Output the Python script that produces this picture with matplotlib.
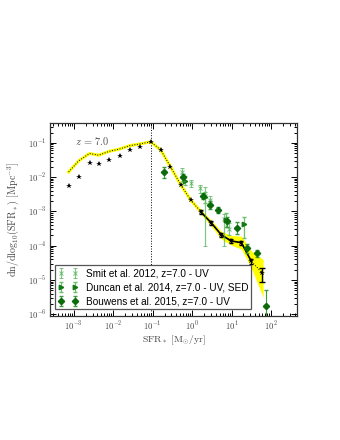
import numpy as np
import matplotlib
matplotlib.use("Agg")
import matplotlib.pyplot as plt
from matplotlib.ticker import LogLocator, FuncFormatter, NullFormatter

plt.rcParams['mathtext.fontset'] = 'cm'

# model curve (log10 SFR, log10 dn/dlogSFR)
model_x = [-3.13, -2.87, -2.60, -2.37, -2.11, -1.84, -1.58, -1.32, -1.05, -0.80,
           -0.55, -0.29, -0.04, 0.23, 0.49, 0.74, 0.99, 1.25, 1.50, 1.78]
model_y = [-1.85, -1.52, -1.31, -1.36, -1.25, -1.18, -1.08, -1.03, -0.97, -1.20,
           -1.69, -2.22, -2.66, -3.02, -3.34, -3.68, -3.86, -3.91, -4.45, -4.80]
# star markers
star_y = [-2.25, -2.00, -1.59, -1.63, -1.49, -1.38, -1.22, -1.13, -0.97, -1.20,
          -1.69, -2.22, -2.66, -3.02, -3.34, -3.68, -3.86, -3.91, -4.45, -4.80]
# yellow band
band_x = [-0.29, -0.04, 0.23, 0.49, 0.74, 0.99, 1.25, 1.50, 1.80]
band_lo = [-2.26, -2.71, -3.08, -3.44, -3.80, -3.98, -4.10, -4.65, -5.50]
band_hi = [-2.18, -2.61, -2.96, -3.26, -3.58, -3.70, -3.72, -4.15, -4.40]
# black data segment with errorbars
seg_x = [0.23, 0.49, 0.74, 0.99, 1.25, 1.50]
seg_y = [-3.02, -3.34, -3.68, -3.86, -3.91, -4.45]
seg_err = [0.05, 0.05, 0.06, 0.06, 0.06, 0.07]
last_x = [1.78]
last_y = [-4.82]
last_lo = [-5.05]
last_hi = [-4.64]

# Smit et al. 2012
sm_x = [-0.25, -0.04, 0.19, 0.32, 0.45, 0.82, 0.93]
sm_y = [-1.84, -2.18, -2.33, -2.55, -2.68, -3.22, -3.50]
sm_lo = [-1.98, -2.30, -2.45, -4.00, -2.85, -4.00, -3.70]
sm_hi = [-1.72, -2.08, -2.22, -2.30, -2.55, -3.08, -3.35]
# Duncan et al. 2014
du_x = [-0.18, 0.32, 0.86, 1.31]
du_y = [-2.10, -2.58, -3.24, -3.38]
du_lo = [-2.22, -2.75, -3.45, -3.78]
du_hi = [-1.98, -2.42, -3.05, -3.15]
# Bouwens et al. 2015
bo_x = [-0.72, -0.22, 0.27, 0.46, 0.65, 0.89, 1.15, 1.40, 1.64, 1.88]
bo_y = [-1.84, -2.00, -2.54, -2.80, -2.95, -3.28, -3.47, -4.07, -4.22, -5.76]
bo_lo = [-2.03, -2.10, -2.65, -2.92, -3.05, -3.45, -3.65, -4.20, -4.32, -6.20]
bo_hi = [-1.69, -1.90, -2.45, -2.70, -2.86, -3.15, -3.32, -3.95, -4.12, -5.30]

vline_x = -1.05


def p(a):
    return 10 ** np.array(a)


def yerr(y, lo, hi):
    y = p(y)
    return [y - p(lo), p(hi) - y]


fig = plt.figure(figsize=(3.4, 4.4), dpi=100)
ax = fig.add_axes([0.147, 0.282, 0.727, 0.4385])

ax.fill_between(p(band_x), p(band_lo), p(band_hi), color='yellow', lw=0, zorder=1)
ax.plot(p(model_x), p(model_y), color='yellow', lw=2.2, zorder=2)
ax.plot(p(model_x), p(model_y), color='black', lw=0.7, ls=':', zorder=3)
ax.plot(p(model_x), p(star_y), '*', color='black', ms=4.3, mew=0, zorder=4)
ax.errorbar(p(seg_x), p(seg_y), yerr=[p(seg_y) - p(np.array(seg_y) - seg_err),
                                      p(np.array(seg_y) + seg_err) - p(seg_y)],
            color='black', lw=1.2, elinewidth=0.8, capsize=1.5, zorder=5)
ax.errorbar(p(last_x), p(last_y), yerr=yerr(last_y, last_lo, last_hi), fmt='none',
            ecolor='black', elinewidth=1.0, capsize=2, zorder=5)

ax.axvline(10 ** vline_x, color='black', ls=':', lw=0.7, zorder=0)

ax.errorbar(p(sm_x), p(sm_y), yerr=yerr(sm_y, sm_lo, sm_hi), fmt='x', color='#4caf50',
            ms=2.8, mew=0.7, elinewidth=0.9, capsize=1.5, alpha=0.7, zorder=6,
            label='Smit et al. 2012, z=7.0 - UV')
ax.errorbar(p(du_x), p(du_y), yerr=yerr(du_y, du_lo, du_hi), fmt='>', color='#137a13',
            ecolor='#6cbf6c', ms=3.2, elinewidth=0.9, capsize=1.5, zorder=7,
            label='Duncan et al. 2014, z=7.0 - UV, SED')
ax.errorbar(p(bo_x), p(bo_y), yerr=yerr(bo_y, bo_lo, bo_hi), fmt='D', color='#0b6b0b',
            ecolor='#3a9a3a', ms=3.2, elinewidth=0.8, capsize=1.5, zorder=8,
            label='Bouwens et al. 2015, z=7.0 - UV')

ax.text(10 ** -2.53, 10 ** -0.96, r'$z\,=\,7.0$', color='#555555', fontsize=7.5,
        ha='center', va='center')

ax.set_xscale('log')
ax.set_yscale('log')
ax.set_xlim(2.5e-4, 460)
ax.set_ylim(9e-7, 0.38)

fmt = FuncFormatter(lambda v, pos: r'$10^{%d}$' % round(np.log10(v)))
ax.xaxis.set_major_locator(LogLocator(base=10, numticks=20))
ax.yaxis.set_major_locator(LogLocator(base=10, numticks=20))
ax.xaxis.set_minor_locator(LogLocator(base=10, subs=np.arange(2, 10), numticks=20))
ax.yaxis.set_minor_locator(LogLocator(base=10, subs=np.arange(2, 10), numticks=20))
ax.xaxis.set_major_formatter(fmt)
ax.yaxis.set_major_formatter(fmt)
ax.xaxis.set_minor_formatter(NullFormatter())
ax.yaxis.set_minor_formatter(NullFormatter())
ax.set_xticks([1e-3, 1e-2, 1e-1, 1, 10, 100])
ax.tick_params(which='both', direction='in', top=True, right=True,
               labelsize=6.3, labelcolor='#444444', width=0.7, pad=2.5)
ax.tick_params(which='major', length=4)
ax.tick_params(which='minor', length=2)
for s in ax.spines.values():
    s.set_linewidth(0.9)
    s.set_color('#333333')

ax.set_xlabel(r'$\mathrm{SFR}_*\ [\mathrm{M}_{\odot}/\mathrm{yr}]$', fontsize=7,
              color='#444444', labelpad=1)
ax.set_ylabel(r'$\mathrm{dn/dlog_{10}(SFR_*)\ [Mpc^{-3}]}$', fontsize=7.2,
              color='#444444', labelpad=5)

leg = ax.legend(loc='lower left', bbox_to_anchor=(0.02, 0.035), borderaxespad=0,
                numpoints=2, fancybox=False, framealpha=1, handlelength=2.0,
                prop={'family': 'Liberation Sans', 'size': 7.2},
                borderpad=0.3, labelspacing=0.4, handletextpad=0.8)
leg.get_frame().set_edgecolor('#555555')
leg.get_frame().set_linewidth(0.9)

fig.savefig('out.png', dpi=100)
